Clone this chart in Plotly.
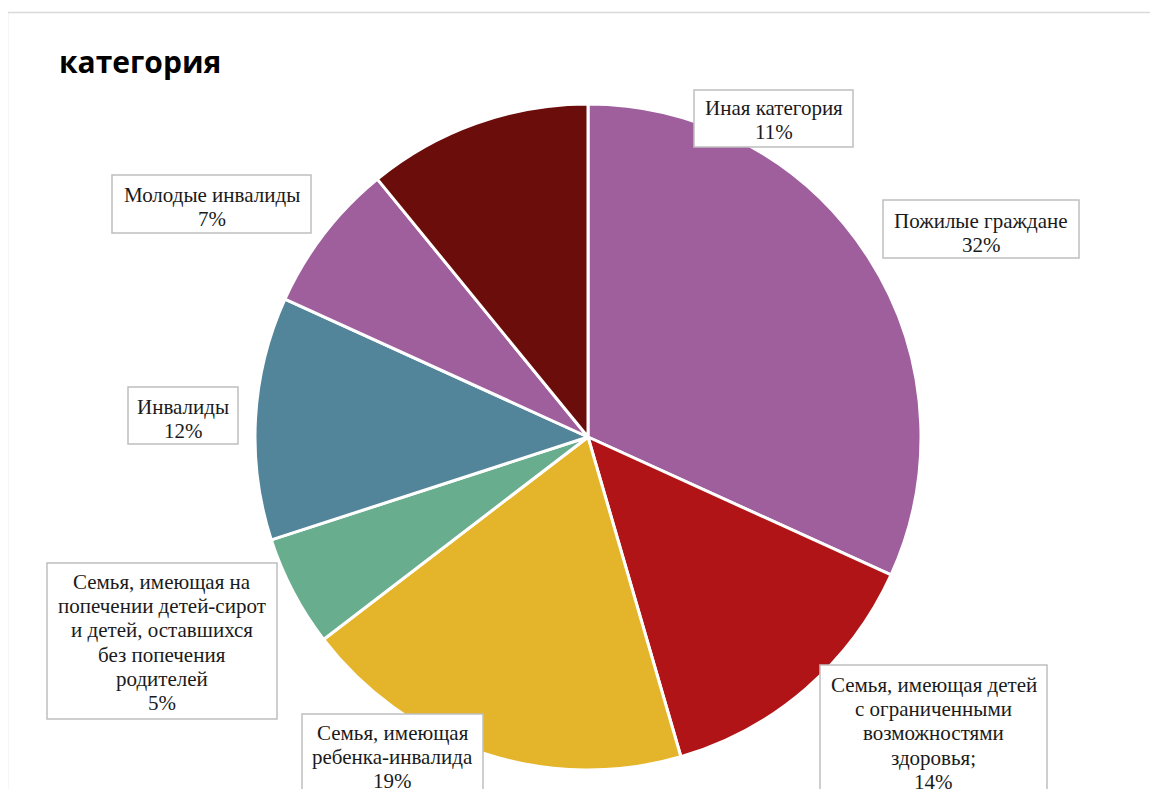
import plotly.graph_objects as go

# ---- data ----
categories = [
    "Пожилые граждане",
    "Семья, имеющая детей|с ограниченными|возможностями|здоровья;",
    "Семья, имеющая|ребенка-инвалида",
    "Семья, имеющая на|попечении детей-сирот|и детей, оставшихся|без попечения|родителей",
    "Инвалиды",
    "Молодые инвалиды",
    "Иная категория",
]
values = [31.8, 13.7, 19.1, 5.4, 11.8, 7.3, 10.9]
colors = ["#9E5F9C", "#B01416", "#E4B52A", "#69AD8F", "#52849A", "#9E5F9C", "#6B0D0B"]
title_text = "категория"

# page has an 8px body margin; work in reference pixels and convert
OFF = 8
W, H = 1150, 781


def px(x):
    return (x - OFF) / W


def py(y):
    return 1 - (y - OFF) / H


cx, cy, r = 588, 437, 333

fig = go.Figure(go.Pie(
    labels=[c.replace("|", " ") for c in categories],
    values=values,
    sort=False,
    direction="clockwise",
    rotation=0,
    marker=dict(colors=colors, line=dict(color="white", width=3)),
    textinfo="none",
    hoverinfo="label+percent",
    showlegend=False,
    domain=dict(x=[px(cx - r), px(cx + r)], y=[py(cy + r), py(cy - r)]),
))

# label boxes: (x0, x1, y0, y1, first line centre y) in reference pixels
boxes = [
    (883, 1079, 200, 258, 221),
    (820, 1047, 665, 800, 685),
    (302, 483, 714, 800, 733),
    (47, 277, 563, 719, 582),
    (128, 238, 387, 444, 407),
    (112, 311, 175, 233, 195),
    (694, 853, 90, 147, 108),
]
LINE = 24.2
total = sum(values)
annotations = []
shapes = [dict(type="rect", xref="paper", yref="paper",
               x0=px(7.5), x1=1.02, y0=-0.02, y1=py(12.5),
               line=dict(color="#D9D9D9", width=1.5), layer="below")]

for cat, v, (x0, x1, y0, y1, ly) in zip(categories, values, boxes):
    shapes.append(dict(type="rect", xref="paper", yref="paper",
                       x0=px(x0), x1=px(x1), y0=py(y1), y1=py(y0),
                       line=dict(color="#BFBFBF", width=1.5),
                       fillcolor="white", layer="above"))
    lines = cat.split("|") + [f"{round(100 * v / total)}%"]
    xc = (x0 + x1) / 2
    for i, t in enumerate(lines):
        annotations.append(dict(
            x=px(xc), y=py(ly + i * LINE), xref="paper", yref="paper",
            xanchor="center", yanchor="middle",
            text=t, showarrow=False,
            font=dict(family="Liberation Serif", size=21, color="#1a1a1a"),
        ))

annotations.append(dict(
    x=px(57), y=py(62), xref="paper", yref="paper",
    xanchor="left", yanchor="middle",
    text=f"<b>{title_text}</b>", showarrow=False,
    font=dict(family="Open Sans", size=30, color="black"),
))

fig.update_layout(
    width=W, height=H,
    margin=dict(l=0, r=0, t=0, b=0),
    paper_bgcolor="white",
    annotations=annotations,
    shapes=shapes,
)

fig.write_html("out.html")
